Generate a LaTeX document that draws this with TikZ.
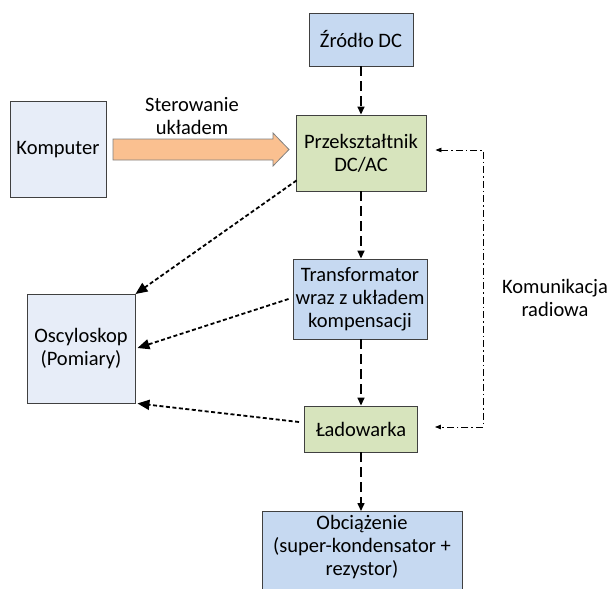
\documentclass[tikz,border=0pt]{standalone}
\usepackage{fontspec}
\setmainfont{Carlito}
\usetikzlibrary{arrows.meta,calc}
\definecolor{bbox}{HTML}{C6D9F1}
\definecolor{lbox}{HTML}{E7EDF8}
\definecolor{gbox}{HTML}{D7E4BD}
\definecolor{obox}{HTML}{FAC090}
\definecolor{edge}{HTML}{404040}
\tikzset{
  blk/.style={draw=edge, line width=0.9pt, inner sep=0pt, align=center,
    font=\fontsize{20.5}{23}\selectfont},
  lbl/.style={inner sep=0pt, align=center, font=\fontsize{20.5}{23}\selectfont},
  flow/.style={line width=1.5pt, dash pattern=on 10pt off 5pt,
    -{Triangle[length=8pt,width=7pt]}},
  meas/.style={line width=1.8pt, dash pattern=on 4pt off 2.5pt,
    -{Triangle[length=12pt,width=10pt]}},
  radio/.style={line width=0.8pt, dash pattern=on 7pt off 3pt on 1.5pt off 3pt,
    {Triangle[length=6pt,width=4.5pt]}-{Triangle[length=6pt,width=4.5pt]}}
}
\begin{document}
\begin{tikzpicture}[x=1pt,y=-1pt]
\useasboundingbox (0,0) rectangle (614,589);
\node[blk, fill=bbox, minimum width=104pt, minimum height=53pt] (zrodlo) at (361,39.5) {Źródło DC};
\node[blk, fill=lbox, minimum width=96pt, minimum height=96pt] (komp) at (58,149.5) {Komputer};
\node[blk, fill=gbox, minimum width=130pt, minimum height=76pt] (prz) at (361,153) {Przekształtnik\\DC/AC};
\node[blk, fill=bbox, minimum width=134pt, minimum height=80pt] (trans) at (360,299) {Transformator\\wraz z układem\\kompensacji};
\node[blk, fill=lbox, minimum width=108pt, minimum height=109pt] (osc) at (81,349) {Oscyloskop\\(Pomiary)};
\node[blk, fill=gbox, minimum width=113pt, minimum height=46pt] (lad) at (361,429) {Ładowarka};
\draw[draw=edge, line width=0.9pt, fill=bbox] (262,511) rectangle (462,600);
\coordinate (obctop) at (361,511);
\node[lbl] (obc) at (362,547) {Obciążenie\\(super-kondensator +\\rezystor)};
\node[lbl] (ster) at (192,116) {Sterowanie\\układem};
\node[lbl] (kom) at (555,298) {Komunikacja\\radiowa};
% big arrow
\draw[draw=gray, line width=0.8pt, fill=obox]
  (113,139) -- (273,139) -- (273,133) -- (289,149.5) -- (273,166) -- (273,160) -- (113,160) -- cycle;
% flow
\draw[flow] (zrodlo.south) -- (zrodlo.south |- prz.north);
\draw[flow] (prz.south) -- (prz.south |- trans.north);
\draw[flow] (lad.north |- trans.south) -- (lad.north);
\draw[flow] (lad.south) -- (obctop);
% measurement
\draw[meas] ($(prz.south west)+(1,-11)$) -- (osc.north east);
\draw[meas] ($(trans.west)+(-4,0)$) -- ($(osc.east)+(2,-1)$);
\draw[meas] ($(lad.west)+(-5,-7)$) -- ($(osc.south east)+(2,-0.5)$);
% radio
\coordinate (rtop) at (483,150);
\coordinate (rbot) at (483,427);
\draw[radio] ($(prz.east)+(9,-3)$) -- (rtop) -- (rbot) -- ($(lad.east)+(17,-2)$);
\end{tikzpicture}
\end{document}
